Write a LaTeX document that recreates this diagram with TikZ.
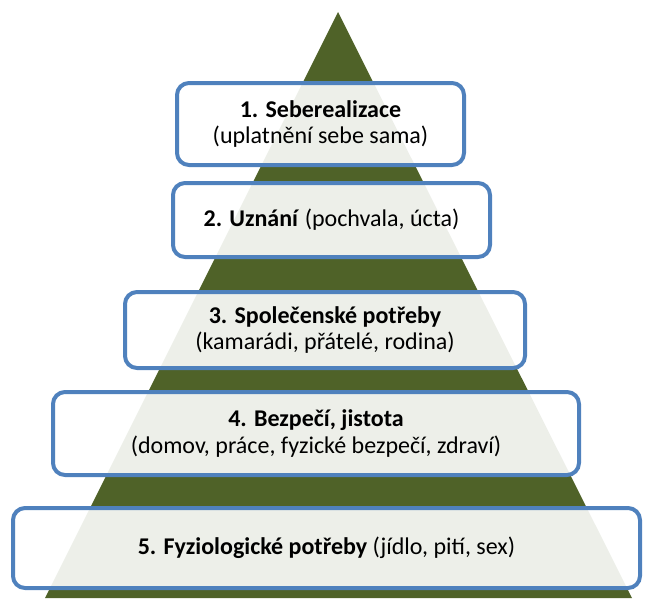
\documentclass[tikz,border=0pt]{standalone}
\usepackage{fontspec}
\setmainfont{Carlito}
\definecolor{pyramidgreen}{HTML}{4F6228}
\definecolor{levelblue}{HTML}{4F81BD}

\begin{document}
\begin{tikzpicture}[x=1pt, y=-1pt,
  level/.style={rectangle, draw=levelblue, line width=4pt, rounded corners=12pt,
    fill=white, fill opacity=0.9, text opacity=1, align=center, inner sep=0pt,
    font=\fontsize{24}{26.5}\selectfont}]
  \useasboundingbox (0,0) rectangle (646,598);
  % pyramid behind the levels
  \fill[pyramidgreen] (338,12) -- (632,598) -- (45,598) -- cycle;
  % levels, top to bottom
  \node[level, minimum width=287pt, minimum height=82pt] (level1) at (320.5,124)
    {\textbf{1. Seberealizace}\\(uplatnění sebe sama)};
  \node[level, minimum width=317pt, minimum height=74pt] (level2) at (331.5,220)
    {\textbf{2. Uznání} (pochvala, úcta)};
  \node[level, minimum width=400pt, minimum height=76pt] (level3) at (325,330)
    {\textbf{3. Společenské potřeby}\\(kamarádi, přátelé, rodina)};
  \node[level, minimum width=526pt, minimum height=83pt] (level4) at (316,433.5)
    {\textbf{4. Bezpečí, jistota}\\(domov, práce, fyzické bezpečí, zdraví)};
  \node[level, minimum width=627pt, minimum height=80pt] (level5) at (326.5,548)
    {\textbf{5. Fyziologické potřeby} (jídlo, pití, sex)};
\end{tikzpicture}
\end{document}
